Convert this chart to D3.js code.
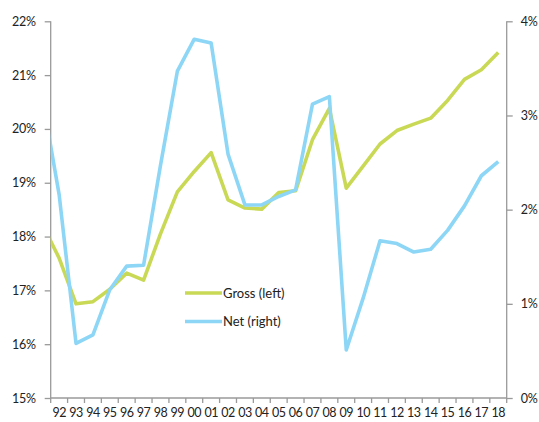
<!DOCTYPE html>
<html>
<head>
<meta charset="utf-8">
<script src="https://cdn.jsdelivr.net/npm/d3@7"></script>
<style>
  html, body { margin: 0; padding: 0; background: #fff; }
  svg { display: block; }
  text { font-family: Lato, "Open Sans", sans-serif; font-size: 13px; fill: #222; }
</style>
</head>
<body>
<svg id="chart" width="539" height="422"></svg>
<script>
// Years shown on the axis; the series carry one earlier year (1991) that runs off the left edge.
const years = ["92","93","94","95","96","97","98","99","00","01","02","03","04","05","06","07","08","09","10","11","12","13","14","15","16","17","18"];
const leadYear = "91";

// Gross saving, % (left axis), 1991..2018
const gross = [18.23, 17.60, 16.75, 16.79, 17.02, 17.32, 17.19, 18.05, 18.83, 19.21, 19.56, 18.68, 18.53, 18.51, 18.82, 18.85, 19.80, 20.38, 18.90, 19.31, 19.72, 19.97, 20.09, 20.20, 20.53, 20.92, 21.10, 21.42];
// Net saving, % (right axis), 1991..2018
const net = [3.19, 2.16, 0.58, 0.67, 1.15, 1.40, 1.41, 2.47, 3.47, 3.81, 3.77, 2.59, 2.05, 2.05, 2.14, 2.21, 3.12, 3.20, 0.51, 1.06, 1.67, 1.64, 1.55, 1.58, 1.78, 2.04, 2.36, 2.51];

const leftTicks = [15, 16, 17, 18, 19, 20, 21, 22];
const rightTicks = [0, 1, 2, 3, 4];

const legendItems = [
  { label: "Gross (left)", color: "#c9d955" },
  { label: "Net (right)", color: "#8dd6f6" }
];

const svg = d3.select("#chart");
const m = { left: 50.7, right: 506.7, top: 21.3, bottom: 398 };

const x = d3.scaleBand().domain(years).range([m.left, m.right]).paddingInner(0).paddingOuter(0);
const bw = x.bandwidth();
const xc = (yr) => yr === leadYear ? x(years[0]) - bw / 2 : x(yr) + bw / 2;
const yL = d3.scaleLinear().domain([15, 22]).range([m.bottom, m.top]);
const yR = d3.scaleLinear().domain([0, 4]).range([m.bottom, m.top]);

const allYears = [leadYear].concat(years);

svg.append("defs").append("clipPath").attr("id", "plot")
  .append("rect").attr("x", m.left).attr("y", 0).attr("width", m.right - m.left).attr("height", m.bottom);

const axisColor = "#9a9a9a";
const tickFont = "Lato, 'Open Sans', sans-serif";

// Left axis
const gL = svg.append("g").attr("transform", `translate(${m.left},0)`)
  .call(d3.axisLeft(yL).tickValues(leftTicks).tickFormat(d => d + "%").tickSize(6).tickPadding(9));
// Right axis
const gR = svg.append("g").attr("transform", `translate(${m.right},0)`)
  .call(d3.axisRight(yR).tickValues(rightTicks).tickFormat(d => d + "%").tickSize(6).tickPadding(8));
// Bottom axis: ticks on category boundaries, labels centred in each band
const gB = svg.append("g").attr("transform", `translate(0,${m.bottom})`);
gB.append("line").attr("x1", m.left).attr("x2", m.right).attr("y1", 0).attr("y2", 0)
  .attr("stroke", axisColor).attr("stroke-width", 1.3);
const bounds = years.map(y => x(y)).concat([m.right]);
gB.selectAll("line.tk").data(bounds).join("line").attr("class", "tk")
  .attr("x1", d => d).attr("x2", d => d).attr("y1", 0).attr("y2", 5)
  .attr("stroke", axisColor).attr("stroke-width", 1.3);
gB.selectAll("text").data(years).join("text")
  .attr("x", d => xc(d)).attr("y", 19).attr("text-anchor", "middle")
  .style("font-size", "12.5px").style("letter-spacing", "-0.5px").text(d => d);

[gL, gR].forEach(g => {
  g.select(".domain").attr("stroke", axisColor).attr("stroke-width", 1.3);
  g.selectAll(".tick line").attr("stroke", axisColor).attr("stroke-width", 1.3);
  g.selectAll(".tick text").style("font-family", tickFont).style("font-size", "12.5px")
    .style("letter-spacing", "-0.3px").attr("fill", "#222");
});
gL.select(".domain").attr("d", `M0,${m.top}V${m.bottom}`);
gR.select(".domain").attr("d", `M0,${m.top}V${m.bottom}`);

// Series lines
const lineL = d3.line().x((d, i) => xc(allYears[i])).y(d => yL(d));
const lineR = d3.line().x((d, i) => xc(allYears[i])).y(d => yR(d));
const lines = svg.append("g").attr("clip-path", "url(#plot)");
lines.append("path").attr("d", lineL(gross)).attr("fill", "none")
  .attr("stroke", legendItems[0].color).attr("stroke-width", 3.6).attr("stroke-linejoin", "round");
lines.append("path").attr("d", lineR(net)).attr("fill", "none")
  .attr("stroke", legendItems[1].color).attr("stroke-width", 3.6).attr("stroke-linejoin", "round");

// Legend
const lg = svg.append("g").attr("transform", "translate(185,293)");
legendItems.forEach((it, i) => {
  const row = lg.append("g").attr("transform", `translate(0,${i * 28.5})`);
  row.append("line").attr("x1", 0).attr("x2", 37).attr("y1", 0).attr("y2", 0)
    .attr("stroke", it.color).attr("stroke-width", 3.6);
  row.append("text").attr("x", 38).attr("y", 4.5).text(it.label);
});
</script>
</body>
</html>
